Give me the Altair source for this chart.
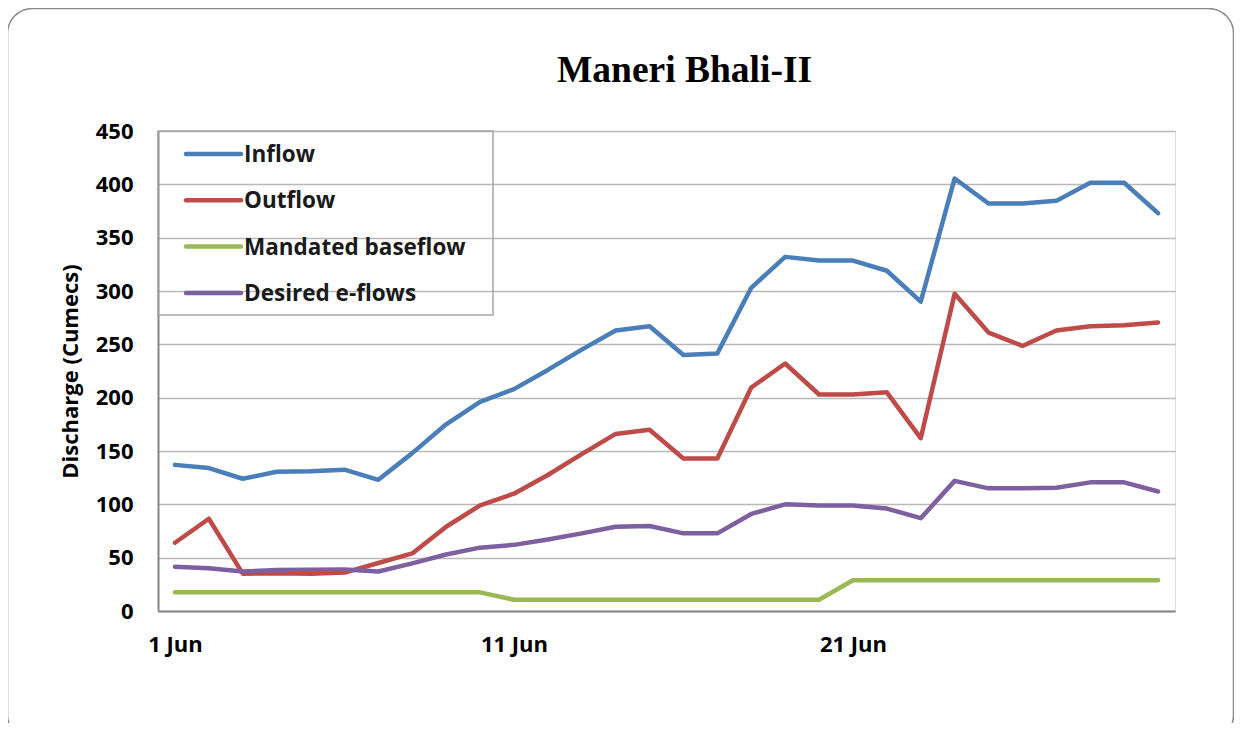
import altair as alt
import pandas as pd

# ---- data ----
days = list(range(1, 31))
series = ["Inflow", "Outflow", "Mandated baseflow", "Desired e-flows"]
colors = ["#4A7EBB", "#BE4B48", "#98B954", "#7D60A0"]

inflow = [137, 134, 124, 130.5, 131, 132.5, 123, 148, 175, 196,
          208, 226, 245, 263, 267, 240, 241.5, 303, 332, 328.5,
          328.5, 319, 290, 405.5, 382, 382, 384.5, 401.5, 401.5, 373]
outflow = [64, 86.5, 35, 35.5, 35, 36, 45, 54, 79, 99,
           110, 127.5, 147, 166, 170, 143, 143, 209.5, 232, 203,
           203, 205, 162, 297.5, 261, 248.5, 263, 267, 268, 270.5]
mandated = [17.5, 17.5, 17.5, 17.5, 17.5, 17.5, 17.5, 17.5, 17.5, 17.5,
            10.6, 10.6, 10.6, 10.6, 10.6, 10.6, 10.6, 10.6, 10.6, 10.6,
            28.8, 28.8, 28.8, 28.8, 28.8, 28.8, 28.8, 28.8, 28.8, 28.8]
desired = [41.5, 40, 37, 38.5, 38.7, 39, 37, 44.7, 53, 59.4,
           62, 67, 72.8, 79, 79.7, 72.8, 72.8, 91, 100, 98.8,
           98.8, 96, 87, 122, 115, 115, 115.6, 120.6, 120.6, 112]

y_ticks = [0, 50, 100, 150, 200, 250, 300, 350, 400, 450]
x_ticks = [1, 11, 21]

rows = []
for name, vals in zip(series, [inflow, outflow, mandated, desired]):
    for d, v in zip(days, vals):
        rows.append({"day": d, "value": v, "series": name})
df = pd.DataFrame(rows)

W, H = 1017, 480
FONT = "Open Sans"
color_scale = alt.Scale(domain=series, range=colors)

x_enc = alt.X(
    "day:Q",
    scale=alt.Scale(domain=[0.5, 30.5], nice=False, zero=False),
    axis=alt.Axis(values=x_ticks, labelExpr="datum.value + ' Jun'", title=None,
                  grid=False, ticks=False, tickSize=0, domainColor="#868686",
                  domainWidth=2, labelFont=FONT, labelFontWeight="bold",
                  labelFontSize=22, labelColor="black", labelPadding=23),
)
y_enc = alt.Y(
    "value:Q",
    scale=alt.Scale(domain=[0, 450], nice=False),
    axis=alt.Axis(values=y_ticks, title="Discharge (Cumecs)", grid=True,
                  gridColor="#b9b9b9", gridWidth=1.5, ticks=False, tickSize=0,
                  domainColor="#868686", domainWidth=2, labelFont=FONT,
                  labelFontWeight="bold", labelFontSize=22, labelColor="black",
                  labelPadding=25, titleFont=FONT, titleFontWeight="bold",
                  titleFontSize=22, titleColor="black", titlePadding=13),
)

one = pd.DataFrame({"k": [0]})

frame = alt.Chart(one).mark_rect(
    cornerRadius=25, fillOpacity=0, stroke="#8a8a8a", strokeWidth=1.5
).encode(x=alt.value(-150.5), x2=alt.value(1075.5), y=alt.value(-122.5), y2=alt.value(609))

lines = alt.Chart(df).mark_line(
    strokeWidth=4.5, strokeCap="round", strokeJoin="round"
).encode(
    x=x_enc, y=y_enc,
    color=alt.Color("series:N", scale=color_scale, legend=None),
)

legend_box = alt.Chart(one).mark_rect(
    fillOpacity=0, stroke="#a6a6a6", strokeWidth=1.5
).encode(x=alt.value(0), x2=alt.value(335), y=alt.value(0), y2=alt.value(184))

legend_layers = []
for i, name in enumerate(series):
    ld = pd.DataFrame({"series": [name]})
    yy = 23 + 46.3 * i
    legend_layers.append(
        alt.Chart(ld).mark_rule(strokeWidth=4.5, strokeCap="round").encode(
            x=alt.value(28), x2=alt.value(83), y=alt.value(yy),
            color=alt.Color("series:N", scale=color_scale, legend=None),
        )
    )
    legend_layers.append(
        alt.Chart(ld).mark_text(
            align="left", baseline="middle", font=FONT, fontWeight="bold",
            fontSize=22.5, color="#1a1a1a", dy=1
        ).encode(x=alt.value(86), y=alt.value(yy), text="series:N")
    )

chart = alt.layer(frame, lines, legend_box, *legend_layers).properties(
    width=W, height=H,
    title=alt.TitleParams(
        "Maneri Bhali-II", font="Liberation Serif", fontSize=37.5,
        fontWeight="bold", color="black", anchor="middle", frame="group",
        baseline="alphabetic", dx=18, offset=-112,
    ),
    autosize=alt.AutoSizeParams(type="none"),
    padding={"left": 150, "top": 123, "right": 59, "bottom": 112},
).configure_view(stroke="#a6a6a6", strokeWidth=1.5
).configure(background="white")

chart.save("out.html", embed_options={"renderer": "svg", "actions": False})
